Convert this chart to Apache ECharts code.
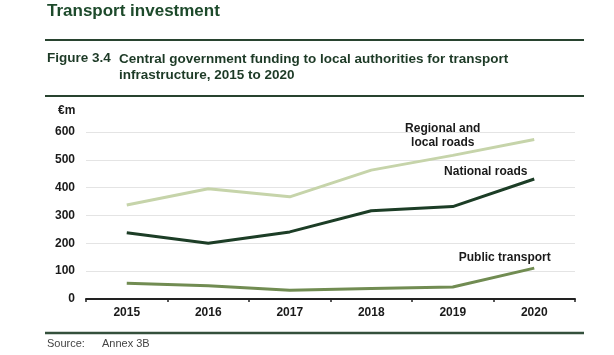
<!DOCTYPE html>
<html><head><meta charset="utf-8">
<script src="https://cdn.jsdelivr.net/npm/echarts@6/dist/echarts.min.js"></script>
<style>html,body{margin:0;padding:0;background:#fff}#c{width:614px;height:355px}</style>
</head><body><div id="c"></div>
<script>
const years = ['2015','2016','2017','2018','2019','2020'];
const regionalLocalRoads = [338, 396, 367, 463, 516, 573];
const nationalRoads = [238, 200, 241, 317, 332, 431];
const publicTransport = [57, 48, 31, 38, 43, 111];
const yTicks = [0, 100, 200, 300, 400, 500, 600];

const FONT = '"Liberation Sans", Arial, sans-serif';
const chart = echarts.init(document.getElementById('c'), null, {renderer: 'canvas'});

function labelPoint(text, coord, offset) {
  return {
    symbol: 'circle', symbolSize: 1,
    itemStyle: {color: 'rgba(0,0,0,0)'},
    data: [{coord: coord, name: text}],
    label: {show: true, position: 'inside', offset: offset, formatter: function () { return text; },
      color: '#1a1a1a', fontFamily: FONT, fontWeight: 'bold', fontSize: 12, lineHeight: 14, align: 'center', verticalAlign: 'middle'}
  };
}

chart.setOption({
  animation: false,
  backgroundColor: '#fff',
  textStyle: {fontFamily: FONT},
  grid: {left: 86, right: 39, top: 132, bottom: 56, containLabel: false},
  graphic: [
    {type: 'text', left: 47, top: 3, style: {text: 'Transport investment', fill: '#1d4a2b', font: 'bold 17px ' + FONT}},
    {type: 'line', shape: {x1: 45, y1: 40, x2: 584, y2: 40}, style: {stroke: '#28432f', lineWidth: 2}},
    {type: 'text', left: 47, top: 51, style: {text: 'Figure 3.4', fill: '#1d3a26', font: 'bold 13.5px ' + FONT}},
    {type: 'text', left: 119, top: 51, style: {text: 'Central government funding to local authorities for transport\ninfrastructure, 2015 to 2020', fill: '#1d3a26', font: 'bold 13.5px ' + FONT, lineHeight: 16}},
    {type: 'line', shape: {x1: 45, y1: 96, x2: 584, y2: 96}, style: {stroke: '#28432f', lineWidth: 2}},
    {type: 'text', left: 58, top: 105, style: {text: '€m', fill: '#1a1a1a', font: 'bold 12px ' + FONT}},
    {type: 'line', shape: {x1: 45, y1: 333, x2: 584, y2: 333}, style: {stroke: '#34503c', lineWidth: 2.5}},
    {type: 'text', left: 47, top: 338, style: {text: 'Source:', fill: '#444', font: '11px ' + FONT}},
    {type: 'text', left: 102, top: 338, style: {text: 'Annex 3B', fill: '#444', font: '11px ' + FONT}}
  ],
  xAxis: {
    type: 'category', data: years, boundaryGap: true,
    axisLine: {show: true, lineStyle: {color: '#222', width: 2}},
    axisTick: {show: true, length: 3, inside: false, lineStyle: {color: '#222', width: 1.5}},
    axisLabel: {color: '#1a1a1a', fontWeight: 'bold', fontSize: 12, margin: 8, fontFamily: FONT},
    splitLine: {show: false}
  },
  yAxis: {
    type: 'value', min: yTicks[0], max: yTicks[yTicks.length - 1], interval: 100,
    axisLine: {show: false}, axisTick: {show: false},
    axisLabel: {color: '#1a1a1a', fontWeight: 'bold', fontSize: 12, margin: 11, fontFamily: FONT},
    splitLine: {show: true, lineStyle: {color: '#e4e4e4', width: 1}}
  },
  series: [
    {name: 'Regional and local roads', type: 'line', data: regionalLocalRoads, symbol: 'none',
      lineStyle: {color: '#c6d4aa', width: 3}, itemStyle: {color: '#c6d4aa'},
      markPoint: labelPoint('Regional and\nlocal roads', ['2019', 585], [-10, 0])},
    {name: 'National roads', type: 'line', data: nationalRoads, symbol: 'none',
      lineStyle: {color: '#1c3d26', width: 3}, itemStyle: {color: '#1c3d26'},
      markPoint: labelPoint('National roads', ['2019', 456], [33, 0])},
    {name: 'Public transport', type: 'line', data: publicTransport, symbol: 'none',
      lineStyle: {color: '#718c52', width: 3}, itemStyle: {color: '#718c52'},
      markPoint: labelPoint('Public transport', ['2019', 148], [52, 0])}
  ]
});
</script></body></html>
